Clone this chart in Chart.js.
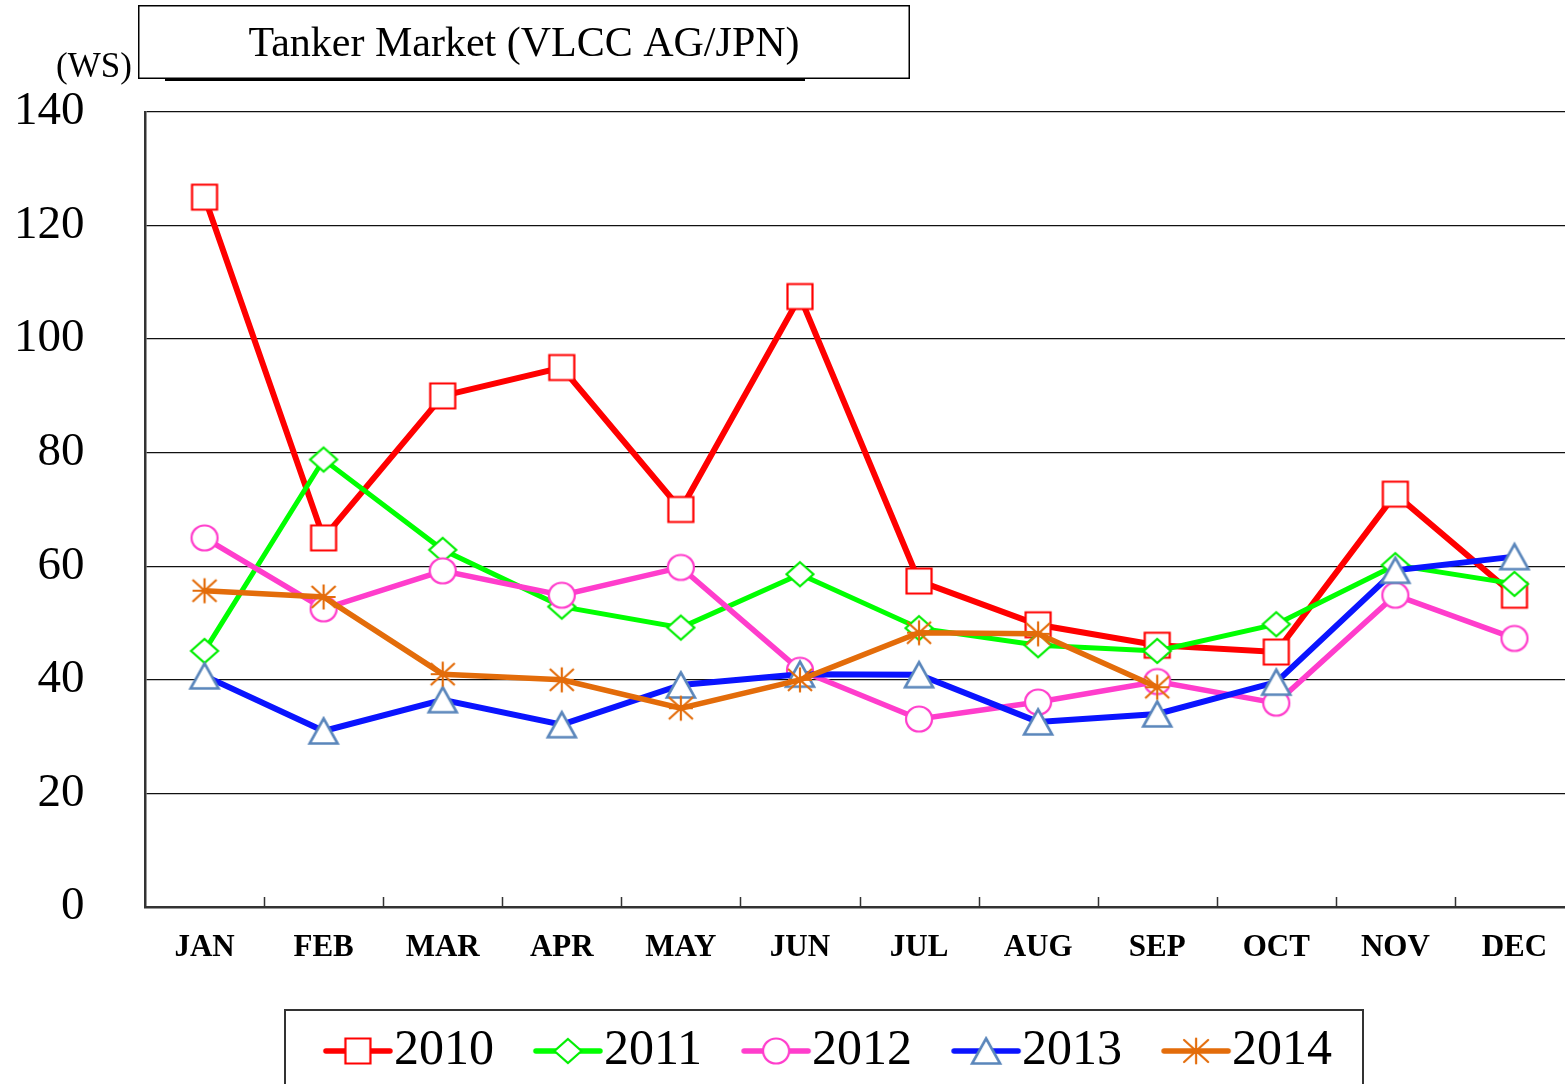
<!DOCTYPE html>
<html><head><meta charset="utf-8">
<script src="https://cdn.jsdelivr.net/npm/chart.js@4.4.0/dist/chart.umd.min.js"></script>
<style>
html,body{margin:0;padding:0;overflow:hidden;background:#fff;}
#wrap{position:absolute;left:0;top:0;width:1593px;height:1087px;}
</style></head><body>
<div id="wrap"><canvas id="c" width="1593" height="1087"></canvas></div>
<script>
const CHART_TITLE = 'Tanker Market (VLCC AG/JPN)';
const Y_UNIT = '(WS)';
const MONTHS = ['JAN','FEB','MAR','APR','MAY','JUN','JUL','AUG','SEP','OCT','NOV','DEC'];
const SERIES_NAMES = ['2010','2011','2012','2013','2014'];
const WS_2010 = [125, 65, 90, 95, 70, 107.5, 57.4, 49.7, 46.1, 44.9, 72.7, 54.9];
const WS_2011 = [45.1, 78.8, 62.9, 52.9, 49.2, 58.6, 49.1, 46.1, 45.1, 49.8, 60.2, 56.9];
const WS_2012 = [65, 52.5, 59.2, 54.9, 59.8, 41.7, 33.1, 36.1, 39.7, 35.9, 54.9, 47.3];
const WS_2013 = [40.7, 31.0, 36.5, 32.1, 39.1, 41.0, 40.9, 32.6, 34.0, 39.6, 59.3, 61.7];
const WS_2014 = [55.7, 54.6, 41.0, 40.0, 35.0, 40.0, 48.3, 48.1, 38.7, null, null, null];
const Y_TICKS = [0, 20, 40, 60, 80, 100, 120, 140];

const STYLES = [
  {line:'#ff0000', mark:'#ff0000', marker:'square',   width:6},
  {line:'#00ff00', mark:'#00ee00', marker:'diamond',  width:5},
  {line:'#ff3dcc', mark:'#ff3dcc', marker:'circle',   width:5.5},
  {line:'#0a14ff', mark:'#5a86bb', marker:'triangle', width:6},
  {line:'#e36c0a', mark:'#e36c0a', marker:'star',     width:5.5}
];

function drawMarker(ctx, kind, cx, cy, color) {
  ctx.save();
  ctx.strokeStyle = color; ctx.fillStyle = '#fff'; ctx.lineWidth = 2.2;
  ctx.beginPath();
  if (kind === 'square') {
    ctx.rect(cx - 12.5, cy - 12.5, 25, 25); ctx.fill(); ctx.stroke();
  } else if (kind === 'diamond') {
    ctx.moveTo(cx, cy - 12); ctx.lineTo(cx + 13.5, cy); ctx.lineTo(cx, cy + 12); ctx.lineTo(cx - 13.5, cy);
    ctx.closePath(); ctx.fill(); ctx.stroke();
  } else if (kind === 'circle') {
    ctx.ellipse(cx, cy, 13, 12.5, 0, 0, Math.PI * 2); ctx.fill(); ctx.stroke();
  } else if (kind === 'triangle') {
    ctx.lineWidth = 2.6;
    ctx.moveTo(cx, cy - 12.5); ctx.lineTo(cx + 14, cy + 12.5); ctx.lineTo(cx - 14, cy + 12.5);
    ctx.closePath(); ctx.fill(); ctx.stroke();
  } else if (kind === 'star') {
    ctx.lineWidth = 2.2;
    ctx.moveTo(cx, cy - 12.5); ctx.lineTo(cx, cy + 12.5);
    ctx.moveTo(cx - 12, cy - 11); ctx.lineTo(cx + 12, cy + 11);
    ctx.moveTo(cx - 12, cy + 11); ctx.lineTo(cx + 12, cy - 11);
    ctx.moveTo(cx - 12, cy); ctx.lineTo(cx + 12, cy);
    ctx.stroke();
  }
  ctx.restore();
}
function markerImage(st) {
  const c = document.createElement('canvas'); c.width = 36; c.height = 36;
  drawMarker(c.getContext('2d'), st.marker, 18, 18, st.mark);
  return c;
}
function legendImage(st) {
  const c = document.createElement('canvas'); c.width = 72; c.height = 36;
  const ctx = c.getContext('2d');
  ctx.strokeStyle = st.line; ctx.lineWidth = 5.5; ctx.lineCap = 'round';
  ctx.beginPath(); ctx.moveTo(4, 18); ctx.lineTo(68, 18); ctx.stroke();
  drawMarker(ctx, st.marker, 36, 18, st.mark);
  return c;
}

const SERIES_DATA = [WS_2010, WS_2011, WS_2012, WS_2013, WS_2014];
const datasets = SERIES_NAMES.map((name, i) => {
  const st = STYLES[i];
  return {
    label: name, data: SERIES_DATA[i],
    borderColor: st.line, backgroundColor: st.line, borderWidth: st.width,
    pointStyle: markerImage(st), pointRadius: 13, pointHoverRadius: 13,
    tension: 0, spanGaps: false, clip: false, order: SERIES_NAMES.length - i
  };
});
const legendImgs = STYLES.map(legendImage);

const decor = {
  id: 'decor',
  beforeDraw(chart) {
    const ctx = chart.ctx; ctx.save(); ctx.fillStyle = '#fff';
    ctx.fillRect(0, 0, chart.width, chart.height); ctx.restore();
  },
  afterDraw(chart) {
    const ctx = chart.ctx; const xs = chart.scales.x; const ca = chart.chartArea;
    ctx.save();
    ctx.strokeStyle = '#333'; ctx.lineWidth = 1.5; ctx.beginPath();
    for (let i = 1; i < MONTHS.length; i++) {
      const px = Math.round((xs.getPixelForTick(i - 1) + xs.getPixelForTick(i)) / 2) + 0.5;
      ctx.moveTo(px, ca.bottom); ctx.lineTo(px, ca.bottom - 10);
    }
    ctx.stroke();
    ctx.fillStyle = '#000'; ctx.fillRect(165, 75, 640, 6);
    ctx.fillStyle = '#fff'; ctx.fillRect(139, 6, 770, 72);
    ctx.strokeStyle = '#000'; ctx.lineWidth = 1.5; ctx.strokeRect(138.75, 5.75, 770.5, 72.5);
    ctx.fillStyle = '#000'; ctx.textAlign = 'center'; ctx.textBaseline = 'middle';
    ctx.font = '42px "Liberation Serif"';
    ctx.fillText(CHART_TITLE, 524, 45);
    ctx.textAlign = 'left'; ctx.font = '35px "Liberation Serif"';
    ctx.fillText(Y_UNIT, 56, 68);
    ctx.strokeStyle = '#333'; ctx.lineWidth = 2;
    ctx.strokeRect(285, 1010, 1078, 200);
    ctx.restore();
  }
};

new Chart(document.getElementById('c'), {
  type: 'line',
  data: { labels: MONTHS, datasets },
  options: {
    responsive: false, devicePixelRatio: 1, animation: false,
    layout: { padding: { top: 112, left: 86, right: 0, bottom: 1 } },
    plugins: {
      title: { display: false }, tooltip: { enabled: false },
      legend: {
        position: 'bottom',
        labels: {
          usePointStyle: true, pointStyleWidth: 22, padding: 63,
          font: { family: 'Liberation Serif', size: 50 }, color: '#000',
          generateLabels: (chart) => SERIES_NAMES.map((n, i) => ({
            text: n, pointStyle: legendImgs[i], fillStyle: STYLES[i].line,
            strokeStyle: STYLES[i].line, lineWidth: 0, hidden: false, datasetIndex: i, fontColor: '#000'
          }))
        }
      }
    },
    scales: {
      x: {
        offset: true,
        grid: { display: false, drawTicks: false },
        border: { display: true, color: '#333', width: 2.5 },
        ticks: { font: { family: 'Liberation Serif', size: 31, weight: 'bold' }, color: '#000', padding: 22, maxRotation: 0, autoSkip: false },
        afterFit: (s) => { s.height = 56; s.paddingLeft = 0; s.paddingRight = 0; }
      },
      y: {
        min: 0, max: 140,
        afterBuildTicks: (s) => { s.ticks = Y_TICKS.map(v => ({ value: v })); },
        grid: { color: '#111', lineWidth: 1.3, drawTicks: false },
        border: { display: true, color: '#333', width: 2.5 },
        ticks: { font: { family: 'Liberation Serif', size: 47 }, color: '#000', mirror: true, crossAlign: 'far', padding: -131 },
        afterFit: (s) => { s.width = 59; }
      }
    }
  },
  plugins: [decor]
});
</script>
</body></html>
